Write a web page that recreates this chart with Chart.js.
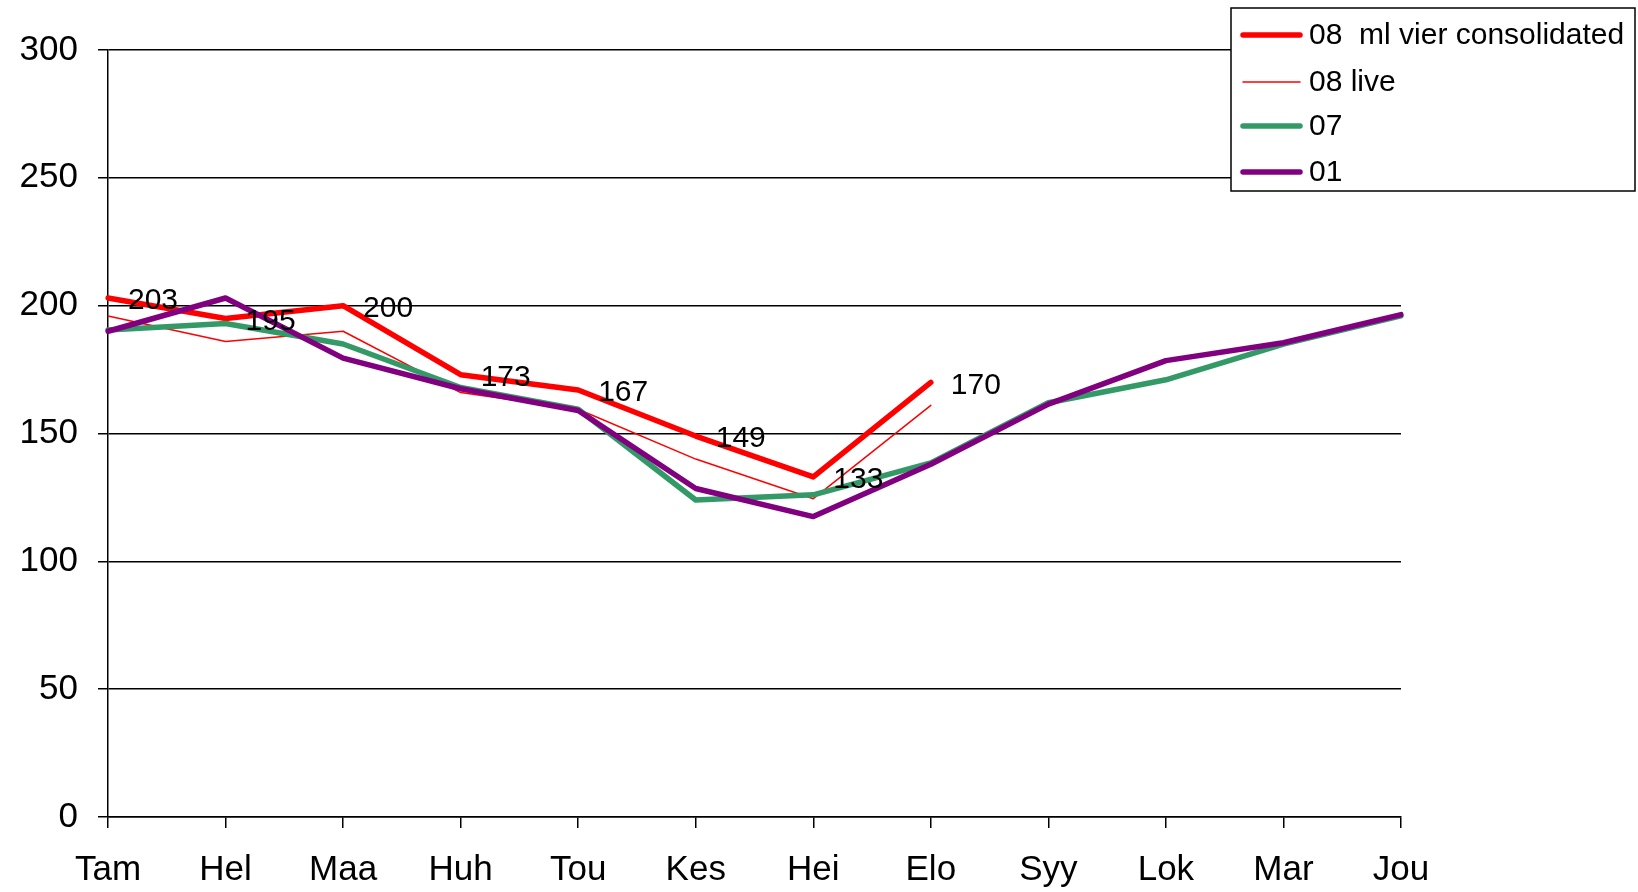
<!DOCTYPE html>
<html>
<head>
<meta charset="utf-8">
<script src="https://cdn.jsdelivr.net/npm/chart.js@4"></script>
<style>
  html, body { margin: 0; padding: 0; background: #fff; }
  #wrap { width: 1638px; height: 892px; }
</style>
</head>
<body>
<div id="wrap"><canvas id="salesChart" width="1638" height="892"></canvas></div>
<script>
// chart data
const months = ['Tam', 'Hel', 'Maa', 'Huh', 'Tou', 'Kes', 'Hei', 'Elo', 'Syy', 'Lok', 'Mar', 'Jou'];
const consolidated08 = [203, 195, 200, 173, 167, 149, 133, 170];
const live08 = [196, 186, 190, 166, 159.5, 140, 124.5, 161];
const values07 = [190.5, 193, 185, 168, 159.5, 124, 126, 138.5, 162, 171, 185, 196];
const values01 = [190, 203, 179.5, 167.5, 159, 128.5, 117.5, 138, 161.5, 178.5, 185.5, 196.5];
const yTicks = [0, 50, 100, 150, 200, 250, 300];
const seriesNames = ['08  ml vier consolidated', '08 live', '07', '01'];

const FONT = "'Liberation Sans', Arial, sans-serif";

// value labels next to the consolidated line
const valueLabels = {
    id: 'valueLabels',
    afterDatasetsDraw(chart) {
        const ctx = chart.ctx;
        const meta = chart.getDatasetMeta(0);
        ctx.save();
        ctx.font = '30px ' + FONT;
        ctx.fillStyle = '#000';
        ctx.textAlign = 'left';
        ctx.textBaseline = 'middle';
        meta.data.forEach((pt, i) => {
            ctx.fillText(String(consolidated08[i]), pt.x + 20, pt.y + 3);
        });
        ctx.restore();
    }
};

// boxed legend in the top right corner
const boxLegend = {
    id: 'boxLegend',
    afterDraw(chart) {
        const ctx = chart.ctx;
        const x = 1231, y = 8, w = 404, h = 183;
        ctx.save();
        ctx.fillStyle = '#fff';
        ctx.fillRect(x, y, w, h);
        ctx.strokeStyle = '#000';
        ctx.lineWidth = 1.5;
        ctx.strokeRect(x, y, w, h);
        const rows = [35, 82, 126, 172];
        ctx.font = '30px ' + FONT;
        ctx.textBaseline = 'middle';
        ctx.lineCap = 'round';
        chart.data.datasets.forEach((ds, i) => {
            ctx.strokeStyle = ds.borderColor;
            ctx.lineWidth = ds.borderWidth;
            ctx.beginPath();
            ctx.moveTo(1243, rows[i]);
            ctx.lineTo(1300, rows[i]);
            ctx.stroke();
            ctx.fillStyle = '#000';
            ctx.fillText(ds.label, 1309, rows[i] + 1);
        });
        ctx.restore();
    }
};

const chart = new Chart(document.getElementById('salesChart'), {
    type: 'line',
    data: {
        labels: months,
        datasets: [
            {
                label: seriesNames[0],
                data: consolidated08,
                borderColor: '#ff0000',
                borderWidth: 5.5,
                order: 3
            },
            {
                label: seriesNames[1],
                data: live08,
                borderColor: '#ff0000',
                borderWidth: 1.5,
                order: 2
            },
            {
                label: seriesNames[2],
                data: values07,
                borderColor: '#339966',
                borderWidth: 5.5,
                order: 1
            },
            {
                label: seriesNames[3],
                data: values01,
                borderColor: '#800080',
                borderWidth: 5.5,
                order: 0
            }
        ]
    },
    options: {
        responsive: false,
        animation: false,
        events: [],
        elements: {
            point: { radius: 0 },
            line: { tension: 0, borderCapStyle: 'round', borderJoinStyle: 'round' }
        },
        layout: {
            padding: { top: 50, right: 237, bottom: 0, left: 0 }
        },
        scales: {
            x: {
                offset: false,
                grid: {
                    display: true,
                    drawOnChartArea: false,
                    drawTicks: true,
                    tickLength: 11,
                    color: '#000',
                    lineWidth: 1.5
                },
                border: { display: true, color: '#000', width: 1.5 },
                ticks: {
                    color: '#000',
                    font: { family: FONT, size: 35 },
                    padding: 21,
                    maxRotation: 0,
                    autoSkip: false
                },
                afterFit(scale) { scale.height = 75; }
            },
            y: {
                min: 0,
                max: 300,
                afterBuildTicks(scale) {
                    scale.ticks = yTicks.map(v => ({ value: v }));
                },
                grid: {
                    color: '#000',
                    lineWidth: 1.5,
                    tickLength: 10
                },
                border: { display: true, color: '#000', width: 1.5 },
                ticks: {
                    color: '#000',
                    font: { family: FONT, size: 35 },
                    padding: 20
                },
                afterFit(scale) { scale.width = 108; }
            }
        },
        plugins: {
            legend: { display: false },
            tooltip: { enabled: false }
        }
    },
    plugins: [valueLabels, boxLegend]
});
</script>
</body>
</html>
